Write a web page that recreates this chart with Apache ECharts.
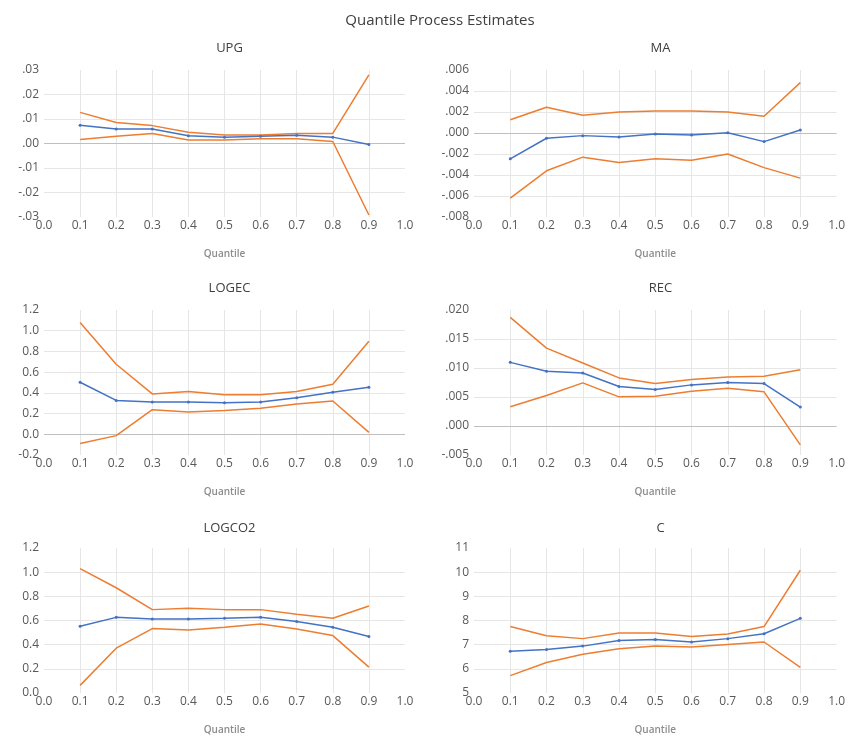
<!DOCTYPE html>
<html>
<head>
<meta charset="utf-8">
<script src="https://cdn.jsdelivr.net/npm/echarts@6/dist/echarts.min.js"></script>
<style>
html,body{margin:0;padding:0;background:#fff;}
#chart{width:848px;height:736px;}
</style>
</head>
<body>
<div id="chart"></div>
<script>
// ---- Data ----
const quantiles = [0.1, 0.2, 0.3, 0.4, 0.5, 0.6, 0.7, 0.8, 0.9];
const xTicks = ['0.0','0.1','0.2','0.3','0.4','0.5','0.6','0.7','0.8','0.9','1.0'];

const upgEst   = [0.0074, 0.0059, 0.0059, 0.0032, 0.0026, 0.0030, 0.0034, 0.0026, -0.0004];
const upgUpper = [0.0127, 0.0086, 0.0073, 0.0046, 0.0035, 0.0035, 0.0041, 0.0041, 0.0280];
const upgLower = [0.0016, 0.0030, 0.0041, 0.0014, 0.0014, 0.0019, 0.0019, 0.0008, -0.0292];

const maEst   = [-0.00246, -0.00050, -0.00025, -0.00038, -0.00010, -0.00020, 0.00003, -0.00082, 0.00028];
const maUpper = [0.00126, 0.00246, 0.00170, 0.00200, 0.00210, 0.00210, 0.00200, 0.00160, 0.00480];
const maLower = [-0.00620, -0.00360, -0.00230, -0.00280, -0.00246, -0.00260, -0.00200, -0.00330, -0.00430];

const logecEst   = [0.502, 0.327, 0.311, 0.311, 0.305, 0.311, 0.352, 0.406, 0.454];
const logecUpper = [1.079, 0.676, 0.390, 0.413, 0.381, 0.381, 0.413, 0.483, 0.898];
const logecLower = [-0.089, -0.013, 0.238, 0.216, 0.229, 0.251, 0.292, 0.321, 0.019];

const recEst   = [0.01097, 0.00943, 0.00914, 0.00680, 0.00629, 0.00709, 0.00749, 0.00731, 0.00326];
const recUpper = [0.01874, 0.01343, 0.01086, 0.00829, 0.00731, 0.00800, 0.00846, 0.00857, 0.00971];
const recLower = [0.00331, 0.00526, 0.00743, 0.00503, 0.00514, 0.00600, 0.00651, 0.00589, -0.00326];

const logco2Est   = [0.552, 0.626, 0.613, 0.613, 0.618, 0.626, 0.591, 0.544, 0.467];
const logco2Upper = [1.030, 0.871, 0.690, 0.701, 0.690, 0.690, 0.651, 0.618, 0.720];
const logco2Lower = [0.063, 0.371, 0.533, 0.522, 0.544, 0.571, 0.530, 0.475, 0.214];

const cEst   = [6.73, 6.80, 6.94, 7.17, 7.21, 7.11, 7.25, 7.45, 8.09];
const cUpper = [7.75, 7.37, 7.25, 7.48, 7.48, 7.34, 7.44, 7.75, 10.08];
const cLower = [5.72, 6.26, 6.60, 6.83, 6.94, 6.90, 7.01, 7.11, 6.06];

const upgTicks    = ['-.03','-.02','-.01','.00','.01','.02','.03'];
const maTicks     = ['-.008','-.006','-.004','-.002','.000','.002','.004','.006'];
const logecTicks  = ['-0.2','0.0','0.2','0.4','0.6','0.8','1.0','1.2'];
const recTicks    = ['-.005','.000','.005','.010','.015','.020'];
const logco2Ticks = ['0.0','0.2','0.4','0.6','0.8','1.0','1.2'];
const cTicks      = ['5','6','7','8','9','10','11'];

// ---- Panels ----
const panels = [
  {name:'UPG',    est:upgEst,    up:upgUpper,    lo:upgLower,    ticks:upgTicks,    min:-0.03,  max:0.03,  step:0.01},
  {name:'MA',     est:maEst,     up:maUpper,     lo:maLower,     ticks:maTicks,     min:-0.008, max:0.006, step:0.002},
  {name:'LOGEC',  est:logecEst,  up:logecUpper,  lo:logecLower,  ticks:logecTicks,  min:-0.2,   max:1.2,   step:0.2},
  {name:'REC',    est:recEst,    up:recUpper,    lo:recLower,    ticks:recTicks,    min:-0.005, max:0.02,  step:0.005},
  {name:'LOGCO2', est:logco2Est, up:logco2Upper, lo:logco2Lower, ticks:logco2Ticks, min:0,      max:1.2,   step:0.2},
  {name:'C',      est:cEst,      up:cUpper,      lo:cLower,      ticks:cTicks,      min:5,      max:11,    step:1}
];

const colLeft = [44, 474];
const colWidth = [361, 363];
const rowTop = [70, 310, 548];
const rowHeight = [147, 145, 147];
const titleTop = [37, 277, 517];

const FONT = '"Open Sans", "DejaVu Sans", sans-serif';
const BLUE = '#4472C4', ORANGE = '#ED7D31';

const option = {
  backgroundColor:'#ffffff',
  animation:false,
  title:[{text:'Quantile Process Estimates', left:435, top:8, textAlign:'center',
          textStyle:{fontFamily:FONT, fontSize:15, fontWeight:'normal', color:'#404040'}}],
  grid:[], xAxis:[], yAxis:[], series:[]
};

function pairs(vals){ return quantiles.map((q,i)=>[q, vals[i]]); }

panels.forEach((p, i) => {
  const col = i % 2, row = Math.floor(i / 2);
  option.grid.push({left:colLeft[col], top:rowTop[row], width:colWidth[col], height:rowHeight[row], containLabel:false});
  option.title.push({text:p.name, left:colLeft[col] + colWidth[col]/2, top:titleTop[row], textAlign:'center',
    textStyle:{fontFamily:FONT, fontSize:13, fontWeight:'normal', color:'#404040'}});
  option.xAxis.push({
    type:'value', gridIndex:i, min:0, max:1, interval:0.1,
    name:'Quantile', nameLocation:'middle', nameGap:32,
    nameTextStyle:{fontFamily:FONT, fontSize:10, color:'#8c8c8c', fontWeight:600},
    axisLine:{show:false}, axisTick:{show:false},
    axisLabel:{fontFamily:FONT, fontSize:12, color:'#595959', margin:3,
      formatter:(v)=> xTicks[Math.round(v*10)]},
    splitLine:{show:true, showMinLine:false, showMaxLine:false, lineStyle:{color:'#e6e6e6', width:1}}
  });
  option.yAxis.push({
    type:'value', gridIndex:i, min:p.min, max:p.max, interval:p.step,
    axisLine:{show:false}, axisTick:{show:false},
    axisLabel:{fontFamily:FONT, fontSize:12, color:'#595959', margin:5,
      formatter:(v)=> p.ticks[Math.round((v - p.min)/p.step)]},
    splitLine:{show:true, showMinLine:false, showMaxLine:false, lineStyle:{color:'#e6e6e6', width:1}}
  });
  option.series.push({
    type:'line', xAxisIndex:i, yAxisIndex:i, data:pairs(p.up), symbol:'none',
    lineStyle:{color:ORANGE, width:1.5}, itemStyle:{color:ORANGE}, z:3
  });
  option.series.push({
    type:'line', xAxisIndex:i, yAxisIndex:i, data:pairs(p.lo), symbol:'none',
    lineStyle:{color:ORANGE, width:1.5}, itemStyle:{color:ORANGE}, z:3
  });
  const s = {
    type:'line', xAxisIndex:i, yAxisIndex:i, data:pairs(p.est), symbol:'circle', symbolSize:3,
    lineStyle:{color:BLUE, width:1.5}, itemStyle:{color:BLUE}, z:4
  };
  if (p.min < 0 && p.max > 0) {
    s.markLine = {silent:true, symbol:'none', label:{show:false},
      lineStyle:{color:'#bfbfbf', width:1, type:'solid'}, data:[{yAxis:0}], z:2};
  }
  option.series.push(s);
});

const chart = echarts.init(document.getElementById('chart'), null, {renderer:'canvas'});
chart.setOption(option);
</script>
</body>
</html>
